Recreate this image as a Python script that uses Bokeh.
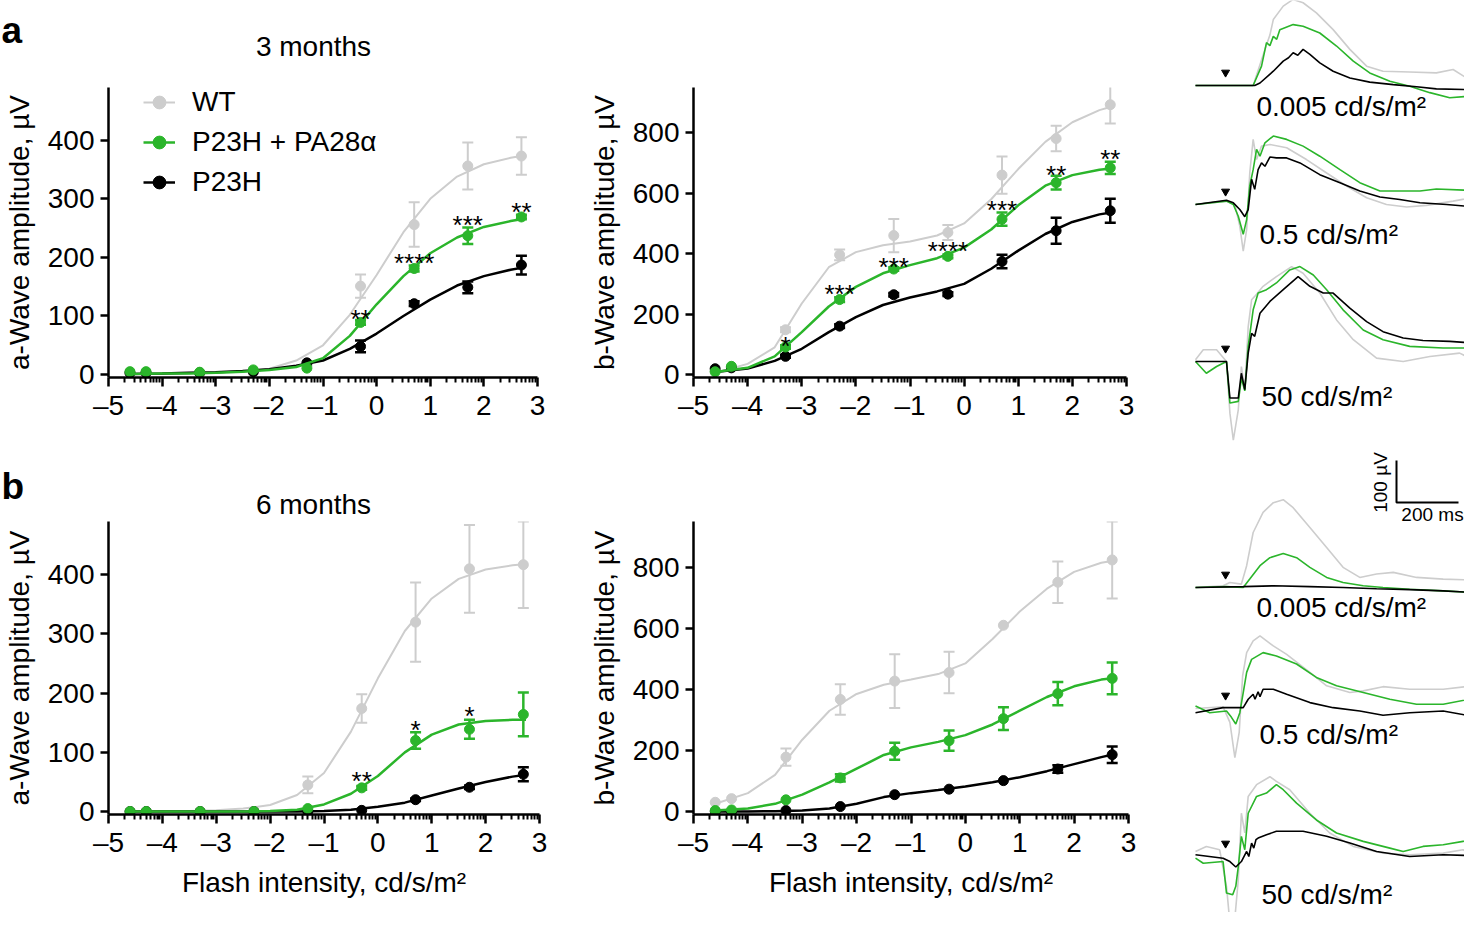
from bokeh.plotting import figure
from bokeh.layouts import row, column
from bokeh.models import (Range1d, FixedTicker, Legend, LegendItem, Whisker, TeeHead,
                          ColumnDataSource)
from bokeh.core.properties import value
from bokeh.embed import file_html
from bokeh.resources import INLINE

FONT = "Liberation Sans"
GREY = "#cdcdcd"
GREEN = "#2bb52b"
BLACK = "#000000"

# ------------------------------------------------------------------ data
intensity = [-4.6, -4.3, -3.3, -2.3, -1.3, -0.3, 0.7, 1.7, 2.7]
fit_x = [-4.6, -4.0, -3.5, -3.0, -2.5, -2.0, -1.5, -1.0, -0.5, 0.0, 0.5, 1.0, 1.5, 2.0, 2.5, 2.75]
x_tick_values = [-5, -4, -3, -2, -1, 0, 1, 2, 3]
x_tick_labels = ["\u20135", "\u20134", "\u20133", "\u20132", "\u20131", "0", "1", "2", "3"]
a_ticks = [0, 100, 200, 300, 400]
b_ticks = [0, 200, 400, 600, 800]
series_names = ["WT", "P23H + PA28\u03b1", "P23H"]
panel_letters = ["a", "b"]
age_titles = ["3 months", "6 months"]

# a-wave, 3 months
a3_wt = [3, 3, 2, 3, 18, 151, 256, 356, 373]
a3_wt_err = [0, 0, 0, 0, 3, 20, 38, 40, 32]
a3_gr = [5, 5, 4, 8, 11, 89, 181, 237, 269]
a3_gr_err = [0, 0, 0, 0, 0, 4, 5, 14, 4]
a3_bk = [3, 3, 3, 5, 20, 48, 121, 149, 187]
a3_bk_err = [0, 0, 0, 0, 0, 10, 4, 10, 16]
a3_wt_fit = [1, 1, 2, 3, 5, 10, 24, 50, 102, 170, 243, 300, 338, 359, 370, 374]
a3_gr_fit = [1, 2, 2, 3, 5, 8, 13, 28, 66, 120, 168, 207, 234, 252, 262, 266]
a3_bk_fit = [1, 2, 3, 4, 6, 9, 15, 24, 44, 70, 100, 128, 152, 168, 179, 183]
a3_star_x = [-0.3, 0.7, 1.7, 2.7]
a3_star_y = [105, 201, 266, 287]
a3_star_txt = ["**", "****", "***", "**"]

# b-wave, 3 months
b3_wt = [11, 25, 148, 396, 460, 470, 660, 781, 893]
b3_wt_err = [0, 0, 8, 18, 55, 25, 62, 42, 62]
b3_gr = [9, 27, 91, 248, 349, 391, 514, 635, 684]
b3_gr_err = [0, 0, 6, 8, 6, 6, 22, 23, 20]
b3_bk = [19, 22, 60, 160, 264, 266, 374, 476, 542]
b3_bk_err = [0, 0, 5, 6, 6, 6, 22, 43, 40]
b3_wt_fit = [5, 35, 90, 235, 355, 405, 428, 440, 460, 500, 580, 680, 770, 835, 875, 888]
b3_gr_fit = [8, 22, 60, 140, 225, 290, 335, 362, 385, 420, 480, 560, 625, 660, 678, 683]
b3_bk_fit = [8, 20, 45, 85, 140, 190, 230, 255, 275, 300, 350, 410, 465, 505, 530, 537]
b3_star_x = [-3.3, -2.3, -1.3, -0.3, 0.7, 1.7, 2.7]
b3_star_y = [115, 286, 376, 429, 563, 679, 734]
b3_star_txt = ["*", "***", "***", "****", "***", "**", "**"]

# a-wave, 6 months
a6_wt = [0, 0, 0, 0, 45, 174, 320, 410, 417]
a6_wt_err = [0, 0, 0, 0, 14, 24, 67, 74, 73]
a6_gr = [0, 0, 0, 0, 5, 40, 120, 139, 164]
a6_gr_err = [0, 0, 0, 0, 0, 3, 14, 16, 37]
a6_bk = [0, 0, 0, 0, 0, 2, 20, 41, 63]
a6_bk_err = [0, 0, 0, 0, 0, 0, 2, 3, 12]
a6_wt_fit = [0, 1, 1, 2, 5, 11, 28, 65, 135, 225, 305, 360, 393, 409, 416, 418]
a6_gr_fit = [0, 0, 0, 0, 0, 1, 3, 12, 30, 60, 100, 130, 147, 153, 155, 155]
a6_bk_fit = [0, 0, 0, 0, 0, 0, 0, 1, 3, 8, 15, 27, 39, 50, 59, 62]
a6_star_x = [-0.3, 0.7, 1.7]
a6_star_y = [62, 148, 171]
a6_star_txt = ["**", "*", "*"]

# b-wave, 6 months
b6_wt = [30, 42, 178, 367, 427, 455, 610, 751, 824]
b6_wt_err = [0, 0, 28, 50, 88, 68, 0, 68, 126]
b6_gr = [3, 5, 38, 110, 197, 232, 304, 386, 436]
b6_gr_err = [0, 0, 0, 12, 28, 33, 37, 38, 52]
b6_bk = [0, 0, 3, 16, 55, 73, 101, 139, 186]
b6_bk_err = [0, 0, 0, 0, 0, 0, 0, 12, 27]
b6_wt_fit = [25, 60, 120, 235, 330, 385, 415, 432, 450, 485, 565, 655, 730, 785, 815, 822]
b6_gr_fit = [3, 10, 25, 55, 95, 140, 185, 210, 228, 250, 285, 330, 375, 410, 432, 437]
b6_bk_fit = [0, 0, 1, 3, 10, 25, 47, 60, 70, 82, 96, 112, 132, 155, 178, 188]

# ERG traces (time in ms from trace start, amplitude in microvolts)
flash_ms = 97
trace_labels = ["0.005 cd/s/m\u00b2", "0.5 cd/s/m\u00b2", "50 cd/s/m\u00b2",
                "0.005 cd/s/m\u00b2", "0.5 cd/s/m\u00b2", "50 cd/s/m\u00b2"]
scale_uv = 100
scale_ms = 200

m3_low_bk_t = [0, 191, 208, 251, 283, 300, 315, 330, 347, 369, 401, 444, 498, 562, 638, 713, 777, 896]
m3_low_bk_v = [0, 0, 6, 34, 58, 66, 78, 72, 86, 74, 54, 34, 18, 8, 2, -3, -8, -10]
m3_low_gr_t = [0, 186, 213, 229, 240, 251, 262, 272, 315, 347, 401, 455, 509, 562, 627, 691, 756, 820, 896]
m3_low_gr_v = [0, 0, 46, 102, 95, 117, 110, 133, 145, 141, 125, 94, 58, 30, 10, -2, -17, -29, -25]
m3_low_wt_t = [0, 186, 224, 240, 251, 283, 315, 347, 390, 444, 498, 552, 605, 691, 777, 831, 874, 896]
m3_low_wt_v = [0, 0, 86, 120, 157, 189, 205, 197, 173, 133, 86, 46, 34, 32, 30, 38, 18, 18]

m3_mid_bk_t = [0, 100, 122, 143, 159, 170, 181, 191, 202, 213, 224, 240, 261, 294, 337, 401, 466, 530, 595, 659, 724, 810, 906]
m3_mid_bk_v = [0, 10, 4, -12, -29, -12, 60, 36, 83, 99, 91, 113, 111, 111, 99, 71, 52, 32, 18, 12, 4, 0, -6]
m3_mid_gr_t = [0, 100, 122, 138, 154, 165, 175, 186, 197, 208, 224, 251, 294, 347, 401, 466, 530, 595, 659, 724, 777, 906]
m3_mid_gr_v = [0, 8, 0, -28, -71, -36, 44, 83, 131, 115, 147, 163, 155, 139, 115, 83, 52, 32, 32, 32, 37, 33]
m3_mid_wt_t = [0, 100, 127, 143, 154, 165, 175, 186, 197, 213, 240, 294, 358, 423, 487, 552, 616, 681, 745, 831, 906]
m3_mid_wt_v = [0, 8, 0, -52, -111, -60, 75, 155, 107, 139, 143, 135, 107, 75, 44, 16, 0, -6, -2, 8, 18]

m3_high_bk_t = [0, 100, 105, 111, 138, 148, 159, 170, 181, 191, 208, 240, 283, 331, 369, 412, 444, 498, 552, 605, 670, 734, 820, 896]
m3_high_bk_v = [0, 0, -40, -87, -87, -28, -67, 20, 67, 60, 115, 143, 171, 202, 179, 163, 163, 127, 95, 71, 56, 50, 48, 44]
m3_high_gr_t = [0, 35, 68, 100, 111, 138, 148, 159, 170, 186, 202, 229, 261, 304, 337, 380, 423, 476, 541, 605, 691, 799, 896]
m3_high_gr_v = [0, -28, -12, 0, -99, -95, -40, -70, 36, 123, 163, 171, 187, 218, 226, 206, 171, 123, 75, 52, 36, 32, 32]
m3_high_wt_t = [0, 25, 68, 100, 111, 122, 138, 148, 159, 170, 181, 191, 218, 261, 310, 347, 401, 455, 509, 584, 670, 756, 852, 896]
m3_high_wt_v = [4, 28, 28, 0, -123, -187, -115, -12, -67, 83, 147, 155, 179, 202, 226, 210, 163, 99, 52, 8, 0, 12, 20, 4]

m6_low_bk_t = [0, 154, 251, 369, 476, 584, 691, 799, 896]
m6_low_bk_v = [0, 2, 4, 2, 0, -3, -5, -8, -12]
m6_low_gr_t = [0, 100, 154, 175, 208, 240, 283, 326, 369, 423, 476, 541, 605, 691, 799, 896]
m6_low_gr_v = [0, 2, 0, 20, 52, 71, 81, 71, 48, 24, 12, 4, 0, -4, -8, -12]
m6_low_wt_t = [0, 89, 111, 148, 165, 186, 218, 251, 283, 315, 369, 423, 476, 530, 584, 638, 713, 799, 896]
m6_low_wt_v = [0, 4, 12, 8, 52, 131, 179, 202, 209, 190, 143, 95, 48, 24, 32, 36, 24, 20, 18]

m6_mid_bk_t = [0, 89, 154, 170, 186, 192, 202, 208, 218, 251, 294, 369, 444, 530, 605, 691, 799, 896]
m6_mid_bk_v = [-10, 2, 2, 22, 34, 22, 40, 28, 46, 46, 34, 14, 2, -6, -16, -10, -6, -19]
m6_mid_gr_t = [0, 46, 100, 116, 130, 143, 154, 165, 181, 218, 261, 326, 390, 455, 541, 627, 713, 799, 896]
m6_mid_gr_v = [6, -10, -6, -21, -37, -10, 38, 86, 117, 133, 125, 106, 74, 54, 38, 22, 10, 10, 24]
m6_mid_wt_t = [0, 89, 111, 127, 141, 152, 165, 186, 208, 251, 294, 369, 423, 498, 541, 605, 691, 799, 896]
m6_mid_wt_v = [0, 4, -33, -117, -57, 78, 133, 161, 173, 149, 129, 86, 54, 38, 42, 52, 46, 46, 54]

m6_high_bk_t = [0, 89, 111, 130, 148, 165, 172, 181, 188, 195, 202, 229, 261, 347, 423, 498, 584, 691, 799, 896]
m6_high_bk_v = [4, -4, -12, -25, -12, 12, 0, 32, 20, 40, 44, 52, 60, 60, 48, 32, 12, 0, 4, 2]
m6_high_gr_t = [0, 25, 89, 100, 120, 130, 138, 148, 159, 170, 197, 229, 261, 283, 326, 390, 455, 541, 627, 670, 734, 799, 863, 896]
m6_high_gr_v = [-4, -16, -12, -87, -91, -71, -24, 48, 16, 103, 143, 151, 171, 159, 127, 87, 56, 36, 20, 12, 24, 28, 36, 40]
m6_high_wt_t = [0, 35, 78, 100, 111, 125, 138, 148, 159, 170, 197, 240, 261, 304, 369, 433, 509, 605, 691, 799, 863, 896]
m6_high_wt_v = [12, 24, 16, -71, -159, -163, -56, 103, 56, 143, 171, 190, 179, 159, 103, 56, 24, 8, 4, 8, 16, 4]

# ------------------------------------------------------------------ styling / layout constants
MINOR = [k + m for k in range(-5, 3) for m in
         (0.30103, 0.47712, 0.60206, 0.69897, 0.77815, 0.84510, 0.90309, 0.95424)]
TXT = "28px"
COLW_A, COLW_B, COLW_T = 577, 605, 282


def bare(width, height, xr, yr):
    f = figure(frame_width=width, frame_height=height, x_range=xr, y_range=yr,
               min_border_left=0, min_border_right=0, min_border_top=0, min_border_bottom=0,
               x_axis_location=None, y_axis_location=None,
               output_backend="svg", toolbar_location=None)
    f.outline_line_color = None
    f.xgrid.visible = False
    f.ygrid.visible = False
    return f


def header(height, letter, letter_xy, title, title_xy):
    h = bare(COLW_A, height, Range1d(0, COLW_A), Range1d(height, 0))
    h.text(x=[letter_xy[0]], y=[letter_xy[1]], text=[letter], text_font=value(FONT),
           text_font_size="37px", text_font_style="bold", text_align="left",
           text_baseline="middle", text_color="black")
    h.text(x=[title_xy[0]], y=[title_xy[1]], text=[title], text_font=value(FONT),
           text_font_size=TXT, text_align="center", text_baseline="middle", text_color="black")
    return h


def panel(frame_w, frame_h, y_lo, y_hi, yticks, border, ylabel, xlabel=None):
    left, right, top, bottom = border
    p = figure(frame_width=frame_w, frame_height=frame_h,
               x_range=Range1d(-5, 3), y_range=Range1d(y_lo, y_hi),
               min_border_left=left, min_border_right=right,
               min_border_top=top, min_border_bottom=bottom,
               output_backend="svg", toolbar_location=None)
    p.outline_line_color = None
    p.xgrid.visible = False
    p.ygrid.visible = False
    overrides = {}
    for v, lab in zip(x_tick_values, x_tick_labels):
        overrides[float(v)] = lab
    xa = p.xaxis[0]
    xa.ticker = FixedTicker(ticks=x_tick_values, minor_ticks=MINOR)
    xa.major_label_overrides = overrides
    xa.axis_line_width = 2.5
    xa.axis_line_color = "black"
    xa.major_tick_line_color = "black"
    xa.minor_tick_line_color = "black"
    xa.major_tick_line_width = 2.5
    xa.minor_tick_line_width = 2
    xa.major_tick_out = 9
    xa.major_tick_in = 0
    xa.minor_tick_out = 5
    xa.minor_tick_in = 0
    xa.major_label_standoff = 3
    xa.major_label_text_font = FONT
    xa.major_label_text_font_size = TXT
    xa.major_label_text_color = "black"
    if xlabel:
        xa.axis_label = xlabel
        xa.axis_label_text_font = FONT
        xa.axis_label_text_font_size = TXT
        xa.axis_label_text_font_style = "normal"
        xa.axis_label_text_color = "black"
        xa.axis_label_standoff = 6
    ya = p.yaxis[0]
    ya.ticker = FixedTicker(ticks=yticks, minor_ticks=[])
    ya.axis_line_width = 2.5
    ya.axis_line_color = "black"
    ya.major_tick_line_color = "black"
    ya.major_tick_line_width = 2.5
    ya.major_tick_out = 8
    ya.major_tick_in = 0
    ya.minor_tick_out = 0
    ya.minor_tick_in = 0
    ya.major_label_standoff = 6
    ya.major_label_text_font = FONT
    ya.major_label_text_font_size = TXT
    ya.major_label_text_color = "black"
    ya.axis_label = ylabel
    ya.axis_label_text_font = FONT
    ya.axis_label_text_font_size = TXT
    ya.axis_label_text_font_style = "normal"
    ya.axis_label_text_color = "black"
    ya.axis_label_standoff = 10
    return p


def series(p, ys, errs, fit_y, color, lw):
    ln = p.line(fit_x, fit_y, line_color=color, line_width=lw)
    keep = [i for i, e in enumerate(errs) if e > 0]
    src = ColumnDataSource(dict(x=[intensity[i] for i in keep],
                                lo=[ys[i] - errs[i] for i in keep],
                                hi=[ys[i] + errs[i] for i in keep]))
    p.add_layout(Whisker(source=src, base="x", lower="lo", upper="hi",
                         line_color=color, line_width=lw,
                         upper_head=TeeHead(size=11, line_color=color, line_width=lw),
                         lower_head=TeeHead(size=11, line_color=color, line_width=lw)))
    pts = p.scatter(intensity, ys, size=10, color=color)
    return ln, pts


def stars(p, xs, ys, txt):
    p.text(x=xs, y=ys, text=txt, text_font=value(FONT), text_font_size="26px",
           text_align="center", text_baseline="middle", y_offset=6, text_color="black")


AMP_A = "a-Wave amplitude, \u00b5V"
AMP_B = "b-Wave amplitude, \u00b5V"
XLAB = "Flash intensity, cd/s/m\u00b2"

# ---- headers (panel letter + age)
h1 = header(77, panel_letters[0], (1, 30), age_titles[0], (313, 46))
h2 = header(74, panel_letters[1], (1, 39), age_titles[1], (313, 57))

# ---- a-wave 3 months
pa3 = panel(429, 290, -5, 490, a_ticks, (108, 40, 10, 70), AMP_A)
wt_r = series(pa3, a3_wt, a3_wt_err, a3_wt_fit, GREY, 2)
bk_r = series(pa3, a3_bk, a3_bk_err, a3_bk_fit, BLACK, 2.5)
gr_r = series(pa3, a3_gr, a3_gr_err, a3_gr_fit, GREEN, 2.5)
stars(pa3, a3_star_x, a3_star_y, a3_star_txt)
legend = Legend(items=[LegendItem(label=series_names[0], renderers=list(wt_r)),
                       LegendItem(label=series_names[1], renderers=list(gr_r)),
                       LegendItem(label=series_names[2], renderers=list(bk_r))],
                location=(35, 177), padding=0, margin=0, spacing=4,
                glyph_width=32, glyph_height=36, label_height=36, label_standoff=17,
                label_text_font=FONT, label_text_font_size=TXT, label_text_color="black",
                border_line_color=None, background_fill_alpha=0)
pa3.add_layout(legend)

# ---- b-wave 3 months
pb3 = panel(433, 290, -10, 950, b_ticks, (116, 56, 87, 70), AMP_B)
series(pb3, b3_wt, b3_wt_err, b3_wt_fit, GREY, 2)
series(pb3, b3_bk, b3_bk_err, b3_bk_fit, BLACK, 2.5)
series(pb3, b3_gr, b3_gr_err, b3_gr_fit, GREEN, 2.5)
stars(pb3, b3_star_x, b3_star_y, b3_star_txt)

# ---- a-wave 6 months
pa6 = panel(431, 293, -5, 490, a_ticks, (108, 38, 0, 98), AMP_A, XLAB)
series(pa6, a6_wt, a6_wt_err, a6_wt_fit, GREY, 2)
series(pa6, a6_bk, a6_bk_err, a6_bk_fit, BLACK, 2.5)
series(pa6, a6_gr, a6_gr_err, a6_gr_fit, GREEN, 2.5)
stars(pa6, a6_star_x, a6_star_y, a6_star_txt)

# ---- b-wave 6 months
pb6 = panel(435, 293, -10, 950, b_ticks, (116, 54, 74, 98), AMP_B, XLAB)
series(pb6, b6_wt, b6_wt_err, b6_wt_fit, GREY, 2)
series(pb6, b6_bk, b6_bk_err, b6_bk_fit, BLACK, 2.5)
series(pb6, b6_gr, b6_gr_err, b6_gr_fit, GREEN, 2.5)

# ---- ERG traces column
PX_PER_MS = 0.31
PX_PER_UV = 0.42
T0_PAGE = 1199          # page x of t = 0
COL_LEFT, COL_RIGHT, COL_TOP, COL_BOTTOM = 1186, 1468, 1, 913
group_base_px = [86, 205, 362, 588, 709, 857]
label_pos_px = [(1260, 107), (1263, 235), (1265, 397), (1260, 608), (1263, 735), (1265, 895)]


def to_t(px):
    return (px - T0_PAGE) / PX_PER_MS


def to_v(py):
    return (COL_BOTTOM - py) / PX_PER_UV


pt = bare(COL_RIGHT - COL_LEFT, COL_BOTTOM - COL_TOP,
          Range1d(to_t(COL_LEFT), to_t(COL_RIGHT)), Range1d(0, to_v(COL_TOP)))

groups = [
    (m3_low_wt_t, m3_low_wt_v, m3_low_gr_t, m3_low_gr_v, m3_low_bk_t, m3_low_bk_v),
    (m3_mid_wt_t, m3_mid_wt_v, m3_mid_gr_t, m3_mid_gr_v, m3_mid_bk_t, m3_mid_bk_v),
    (m3_high_wt_t, m3_high_wt_v, m3_high_gr_t, m3_high_gr_v, m3_high_bk_t, m3_high_bk_v),
    (m6_low_wt_t, m6_low_wt_v, m6_low_gr_t, m6_low_gr_v, m6_low_bk_t, m6_low_bk_v),
    (m6_mid_wt_t, m6_mid_wt_v, m6_mid_gr_t, m6_mid_gr_v, m6_mid_bk_t, m6_mid_bk_v),
    (m6_high_wt_t, m6_high_wt_v, m6_high_gr_t, m6_high_gr_v, m6_high_bk_t, m6_high_bk_v),
]
for k, g in enumerate(groups):
    off = to_v(group_base_px[k])
    for (tt, vv), col in zip(((g[0], g[1]), (g[2], g[3]), (g[4], g[5])), (GREY, GREEN, BLACK)):
        pt.line(tt, [v + off for v in vv], line_color=col, line_width=1.6)
    pt.scatter([flash_ms], [off + 31], marker="inverted_triangle", size=8, color="black")
    lx, ly = label_pos_px[k]
    pt.text(x=[to_t(lx)], y=[to_v(ly)], text=[trace_labels[k]], text_font=value(FONT),
            text_font_size=TXT, text_align="left", text_baseline="middle", text_color="black")

# scale bar
sb_t = to_t(1400)
sb_v = to_v(503)
pt.line([sb_t, sb_t, sb_t + scale_ms], [sb_v + scale_uv, sb_v, sb_v], line_color="black", line_width=2)
pt.text(x=[to_t(1384)], y=[to_v(483)], text=["%d \u00b5V" % scale_uv], angle=90, angle_units="deg",
        text_font=value(FONT), text_font_size="19px", text_align="center", text_baseline="middle",
        text_color="black")
pt.text(x=[to_t(1436)], y=[to_v(515)], text=["%d ms" % scale_ms],
        text_font=value(FONT), text_font_size="19px", text_align="center", text_baseline="middle",
        text_color="black")

layout = row(column(row(h1), row(pa3), row(h2), row(pa6)), column(pb3, pb6), pt)
open("out.html", "w").write(file_html(layout, INLINE))
